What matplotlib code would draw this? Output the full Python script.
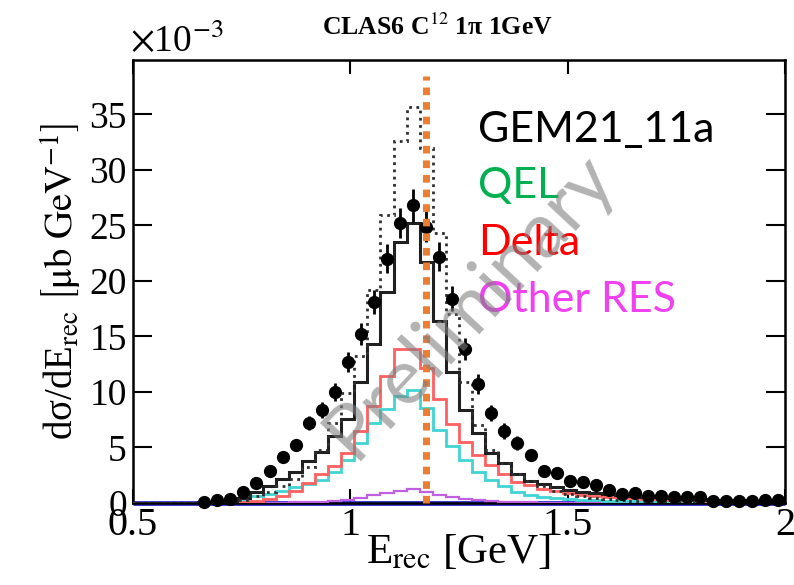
import numpy as np
import matplotlib
matplotlib.use("Agg")
import matplotlib.pyplot as plt

plt.rcParams['font.family'] = 'serif'
plt.rcParams['font.serif'] = ['Liberation Serif', 'DejaVu Serif']
plt.rcParams['mathtext.fontset'] = 'stix'

nan = np.nan

# 50 bins of 0.03 GeV between 0.5 and 2.0 GeV
bin_edges = np.linspace(0.5, 2.0, 51)
bin_centres = 0.5 * (bin_edges[:-1] + bin_edges[1:])

# CLAS6 data points (x 1e-3 ub/GeV)
data_vals = [nan] * 5 + [0.1, 0.3, 0.4, 1.0, 1.8, 2.9, 4.1, 5.2, 7.2, 8.4,
                         10.0, 12.7, 15.2, 18.1, 22.0, 25.2, 26.8, 24.9, 22.2, 18.4,
                         13.9, 10.7, 8.1, 6.5, 5.4, 4.3, 2.9, 2.7, 2.0, 1.9,
                         1.6, 1.2, 0.8, 0.9, 0.6, 0.6, 0.5, 0.5, 0.5, 0.2,
                         0.2, 0.2, 0.2, 0.3, 0.3]
data_errs = [nan] * 5 + [0.1, 0.15, 0.15, 0.25, 0.3, 0.4, 0.5, 0.55, 0.65, 0.7,
                         0.8, 0.9, 1.0, 1.1, 1.3, 1.35, 1.45, 1.4, 1.3, 1.15,
                         1.0, 0.9, 0.75, 0.7, 0.6, 0.55, 0.45, 0.45, 0.4, 0.4,
                         0.35, 0.3, 0.25, 0.25, 0.2, 0.2, 0.2, 0.2, 0.2, 0.15,
                         0.15, 0.15, 0.15, 0.15, 0.15]

# GEM21_11a total (solid)
gem_total = [0, 0, 0, 0, 0, 0.05, 0.1, 0.2, 0.45, 0.95,
             1.5, 2.15, 2.8, 3.8, 4.6, 6.0, 7.6, 10.9, 14.3, 19.0,
             23.5, 25.2, 21.7, 16.4, 11.8, 8.4, 6.3, 4.5, 3.6, 2.6,
             2.0, 1.7, 1.4, 1.2, 1.0, 0.9, 0.8, 0.7, 0.6, 0.55,
             0.5, 0.45, 0.4, 0.35, 0.3, 0.28, 0.25, 0.22, 0.2, 0.18]

# reference model (dotted)
ref_total = [0, 0, 0, 0, 0, 0, 0.05, 0.15, 0.3, 0.6,
             1.0, 1.5, 2.2, 3.2, 4.8, 7.2, 9.9, 13.2, 19.2, 25.9,
             32.6, 35.7, 32.0, 24.3, 17.0, 10.9, 7.0, 4.8, 3.6, 2.6,
             2.0, 1.5, 1.1, 0.8, 0.6, 0.45, 0.35, 0.25, 0.2, 0.15,
             0.12, 0.1, 0.08, 0.07, 0.06, 0.05, 0.04, 0.03, 0.03, 0.02]

qel = [0, 0, 0, 0, 0, 0, 0.1, 0.25, 0.4, 0.6,
       0.85, 1.1, 1.4, 1.7, 2.1, 2.8, 3.9, 5.4, 7.2, 8.5,
       9.6, 10.2, 8.6, 6.6, 5.1, 3.9, 2.8, 2.1, 1.5, 1.0,
       0.75, 0.55, 0.45, 0.35, 0.3, 0.25, 0.2, 0.18, 0.15, 0.13,
       0.12, 0.1, 0.1, 0.08, 0.07, 0.06, 0.05, 0.05, 0.04, 0.04]

delta = [0, 0, 0, 0, 0, 0, 0, 0, 0.05, 0.15,
         0.35, 0.6, 1.1, 1.8, 2.6, 3.3, 4.5, 6.5, 8.7, 11.4,
         13.9, 13.9, 12.2, 9.4, 7.1, 5.5, 4.3, 3.4, 2.6, 1.9,
         1.6, 1.3, 1.1, 0.9, 0.75, 0.65, 0.55, 0.5, 0.45, 0.4,
         0.35, 0.3, 0.25, 0.22, 0.2, 0.18, 0.15, 0.13, 0.12, 0.1]

other_res = [0, 0, 0, 0, 0, 0, 0, 0, 0, 0,
             0.02, 0.03, 0.05, 0.08, 0.12, 0.18, 0.28, 0.45, 0.7, 0.9,
             1.1, 1.3, 1.0, 0.7, 0.5, 0.35, 0.25, 0.18, 0.12, 0.08,
             0.05, 0.04, 0.03, 0.02, 0.02, 0.02, 0.01, 0.01, 0.01, 0.01,
             0, 0, 0, 0, 0, 0, 0, 0, 0, 0]

blue_comp = [0.0] * 50

peak_line_x = 1.175

W, H = 794, 585
fig = plt.figure(figsize=(W / 100, H / 100), dpi=100)
ax = fig.add_axes([132.5 / W, 1 - 503 / H, (785 - 132.5) / W, (503 - 60) / H])

ax.stairs(blue_comp, bin_edges, color='#3030d0', lw=3.5, clip_on=False, zorder=2)
ax.stairs(other_res, bin_edges, color='#c060e0', lw=1.6, zorder=3)
ax.stairs(qel, bin_edges, color='#40d4d4', lw=2, zorder=3)
ax.stairs(delta, bin_edges, color='#ff6060', lw=2, zorder=3)
ax.stairs(gem_total, bin_edges, color='#202020', lw=2.2, zorder=4)
ax.stairs(ref_total, bin_edges, color='#303030', lw=2, ls=(0, (1, 1.6)), zorder=4)

ax.errorbar(bin_centres, data_vals, yerr=data_errs, fmt='o', color='black',
            ms=8.5, elinewidth=2, capsize=0, zorder=5, clip_on=False)

ax.plot([peak_line_x, peak_line_x], [0, 38.5], color='#ed7d31', lw=5,
        ls=(0, (1.1, 1.0)), zorder=6, clip_on=False)

ax.set_xlim(0.5, 2.0)
ax.set_ylim(0, 39.9)
ax.set_xticks([0.5, 1.0, 1.5, 2.0])
ax.set_xticklabels(['0.5', '1', '1.5', '2'])
ax.set_yticks([0, 5, 10, 15, 20, 25, 30, 35])
ax.tick_params(axis='both', direction='in', top=True, right=True, width=1.5)
ax.tick_params(axis='x', length=10, labelsize=29, pad=3)
ax.tick_params(axis='y', length=14, labelsize=27, pad=4)
for s in ax.spines.values():
    s.set_linewidth(1.8)

ax.set_xlabel(r'E$_{\rm rec}$ [GeV]', fontsize=31, labelpad=-8)
ax.set_ylabel(r'dσ/dE$_{\rm rec}$ $\left[\mathrm{μb\ GeV}^{-1}\right]$',
              fontsize=28, labelpad=4)

fig.text(130 / W, 1 - 52 / H, r'$\times$10$^{-3}$', fontsize=27, ha='left', va='baseline')
fig.text(437 / W, 1 - 27 / H, r'CLAS6 C$^{12}$ 1π 1GeV', fontsize=18.5,
         ha='center', va='center', fontweight='bold')

# legend as coloured text
legend_font = ['Lato', 'DejaVu Sans']
fig.text(478 / W, 1 - 130 / H, 'GEM21_11a', color='black', fontsize=31,
         family=legend_font, ha='left', va='center')
fig.text(478 / W, 1 - 186 / H, 'QEL', color='#00b050', fontsize=31,
         family=legend_font, ha='left', va='center')
fig.text(478 / W, 1 - 243 / H, 'Delta', color='#ff0000', fontsize=31,
         family=legend_font, ha='left', va='center')
fig.text(478 / W, 1 - 300 / H, 'Other RES', color='#f040f0', fontsize=31,
         family=legend_font, ha='left', va='center')

fig.text(470 / W, 1 - 305 / H, 'Preliminary', color='#808080', alpha=0.6,
         fontsize=56, family=legend_font, rotation=47, ha='center', va='center',
         zorder=10)

fig.savefig('out.png', dpi=100)
